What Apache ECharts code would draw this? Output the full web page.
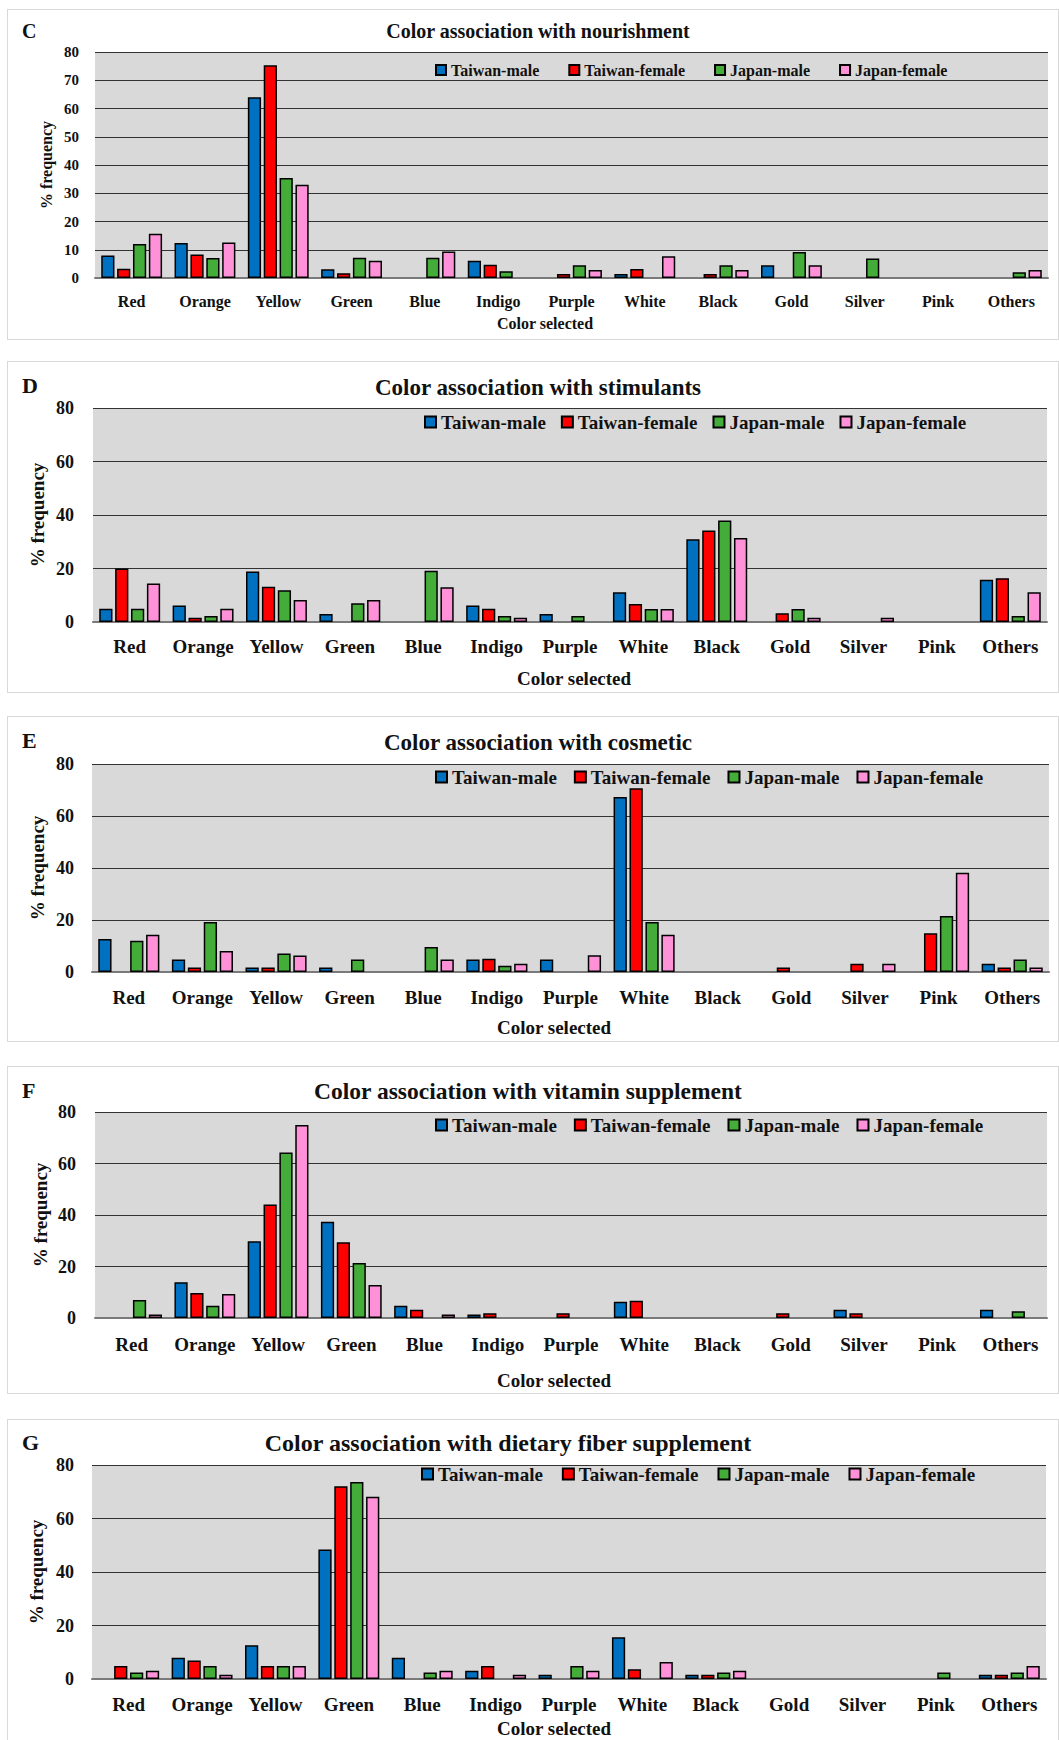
<!DOCTYPE html>
<html>
<head>
<meta charset="utf-8">
<script src="https://cdn.jsdelivr.net/npm/echarts@6/dist/echarts.min.js"></script>
<style>
body { margin: 0; background: #fff; width: 1059px; height: 1740px; position: relative; overflow: hidden; }
.frame { position: absolute; left: 7px; width: 1052px; border: 1.5px solid #d9d9d9; box-sizing: border-box; }
.chart { position: absolute; left: 0; width: 1059px; }
</style>
</head>
<body>
<div class="frame" style="top:9px;height:331px"></div>
<div class="frame" style="top:361px;height:332px"></div>
<div class="frame" style="top:716px;height:326px"></div>
<div class="frame" style="top:1066px;height:328px"></div>
<div class="frame" style="top:1419px;height:330px"></div>
<div class="chart" id="chartC" style="top:9px;height:331px"></div>
<div class="chart" id="chartD" style="top:361px;height:332px"></div>
<div class="chart" id="chartE" style="top:716px;height:326px"></div>
<div class="chart" id="chartF" style="top:1066px;height:328px"></div>
<div class="chart" id="chartG" style="top:1419px;height:321px"></div>
<script>
// categories and groups
const categories = ['Red', 'Orange', 'Yellow', 'Green', 'Blue', 'Indigo', 'Purple', 'White', 'Black', 'Gold', 'Silver', 'Pink', 'Others'];
const groups = ['Taiwan-male', 'Taiwan-female', 'Japan-male', 'Japan-female'];
const groupColors = ['#0070c0', '#ff0000', '#44ad3a', '#ff91d9'];

// % frequency, one row per group (Taiwan-male, Taiwan-female, Japan-male, Japan-female)
const nourishment = [
  [8, 12.4, 64, 3.1, 0, 6.1, 0, 1.4, 0, 4.5, 0, 0, 0],
  [3.3, 8.3, 75.3, 1.7, 0, 4.7, 1.4, 3.2, 1.4, 0, 0, 0, 0],
  [12, 7.1, 35.4, 7.2, 7.2, 2.4, 4.5, 0, 4.5, 9.2, 6.9, 0, 2],
  [15.7, 12.6, 33, 6.1, 9.4, 0, 2.8, 7.7, 2.8, 4.5, 0, 0, 2.8]
];
const stimulants = [
  [5, 6.2, 18.9, 3, 0, 6.2, 3, 11.1, 30.9, 0, 0, 0, 15.8],
  [20, 1.6, 13.2, 0, 0, 5, 0, 6.7, 34.2, 3.3, 0, 0, 16.4],
  [5, 2.2, 11.9, 7, 19.2, 2.2, 2.2, 4.9, 37.9, 4.9, 0, 0, 2.2],
  [14.4, 5, 8.2, 8.2, 13, 1.6, 0, 4.9, 31.4, 1.6, 1.6, 0, 11.1]
];
const cosmetic = [
  [12.7, 4.8, 1.7, 1.7, 0, 4.8, 4.8, 67.3, 0, 0, 0, 0, 3.2],
  [0, 1.7, 1.7, 0, 0, 5.1, 0, 70.7, 0, 1.7, 3.2, 14.9, 1.7],
  [12, 19.2, 7.1, 4.8, 9.6, 2.4, 0, 19.2, 0, 0, 0, 21.5, 4.8],
  [14.3, 8.1, 6.3, 0, 4.8, 3.2, 6.4, 14.3, 0, 0, 3.2, 38.2, 1.7]
];
const vitamin = [
  [0, 13.9, 29.8, 37.4, 4.8, 1.4, 0, 6.3, 0, 0, 3.2, 0, 3.2],
  [0, 9.7, 44.1, 29.4, 3.2, 1.8, 1.8, 6.7, 0, 1.8, 1.8, 0, 0],
  [7, 4.8, 64.3, 21.4, 0, 0, 0, 0, 0, 0, 0, 0, 2.6],
  [1.4, 9.3, 75, 12.8, 1.4, 0, 0, 0, 0, 0, 0, 0, 0]
];
const dietaryFiber = [
  [0, 7.9, 12.6, 48.4, 7.9, 3.1, 1.6, 15.6, 1.6, 0, 0, 0, 1.6],
  [4.9, 6.9, 4.9, 72.1, 0, 4.9, 0, 3.6, 1.6, 0, 0, 0, 1.6],
  [2.4, 4.9, 4.9, 73.6, 2.4, 0, 4.9, 0, 2.4, 0, 0, 2.4, 2.4],
  [3.1, 1.6, 4.9, 68.1, 3.1, 1.6, 3.1, 6.4, 3.1, 0, 0, 0, 4.9]
];

const FONT = '"Liberation Serif", "DejaVu Serif", serif';

// layout of each panel (pixels inside its chart div)
const panels = [
  { id: 'chartC', letter: 'C', title: 'Color association with nourishment', data: nourishment, step: 10,
    grid: { left: 95, right: 11, top: 43, bottom: 62 }, titleX: 538, titleY: 22, letterY: 22,
    legendLeft: 435, legendY: 62, itemGap: 29, icon: 10, yNameX: 46, xNameX: 545, xNameY: 314,
    fTitle: 20, fTick: 15, fCat: 16, fLegend: 16, fName: 16, fLetter: 20, catMargin: 15, tickMargin: 16 },
  { id: 'chartD', letter: 'D', title: 'Color association with stimulants', data: stimulants, step: 20,
    grid: { left: 93, right: 12, top: 47, bottom: 71 }, titleX: 538, titleY: 26, letterY: 24,
    legendLeft: 424, legendY: 62, itemGap: 15, icon: 11, yNameX: 37, xNameX: 574, xNameY: 317,
    fTitle: 23, fTick: 18, fCat: 19, fLegend: 19, fName: 19, fLetter: 22, catMargin: 15, tickMargin: 19 },
  { id: 'chartE', letter: 'E', title: 'Color association with cosmetic', data: cosmetic, step: 20,
    grid: { left: 92, right: 10, top: 48, bottom: 70 }, titleX: 538, titleY: 26, letterY: 24,
    legendLeft: 435, legendY: 62, itemGap: 17, icon: 11, yNameX: 37, xNameX: 554, xNameY: 311,
    fTitle: 23, fTick: 18, fCat: 19, fLegend: 19, fName: 19, fLetter: 22, catMargin: 16, tickMargin: 18 },
  { id: 'chartF', letter: 'F', title: 'Color association with vitamin supplement', data: vitamin, step: 20,
    grid: { left: 95, right: 12, top: 46, bottom: 76 }, titleX: 528, titleY: 25, letterY: 24,
    legendLeft: 435, legendY: 60, itemGap: 17, icon: 11, yNameX: 40, xNameX: 554, xNameY: 314,
    fTitle: 23.5, fTick: 18, fCat: 19, fLegend: 19, fName: 19, fLetter: 22, catMargin: 17, tickMargin: 19 },
  { id: 'chartG', letter: 'G', title: 'Color association with dietary fiber supplement', data: dietaryFiber, step: 20,
    grid: { left: 92, right: 13, top: 46, bottom: 61 }, titleX: 508, titleY: 24, letterY: 23,
    legendLeft: 421, legendY: 56, itemGap: 19, icon: 11, yNameX: 36, xNameX: 554, xNameY: 309,
    fTitle: 24, fTick: 18, fCat: 19, fLegend: 19, fName: 19, fLetter: 22, catMargin: 16, tickMargin: 18 }
];

function textEl(text, x, y, size, extra) {
  return Object.assign({
    type: 'text', x: x, y: y, silent: true,
    style: { text: text, fill: '#111', fontFamily: FONT, fontWeight: 'bold', fontSize: size,
             align: 'center', verticalAlign: 'middle' }
  }, extra || {});
}

panels.forEach(function (p) {
  const el = document.getElementById(p.id);
  const chart = echarts.init(el, null, { renderer: 'svg' });
  const plotMid = p.grid.top + (el.clientHeight - p.grid.top - p.grid.bottom) / 2;

  const series = groups.map(function (name, i) {
    return {
      name: name,
      type: 'bar',
      data: p.data[i].map(function (v) { return v === 0 ? null : v; }),
      barGap: '20%',
      barCategoryGap: '17%',
      itemStyle: { color: groupColors[i], borderColor: '#000', borderWidth: 1.5 },
      emphasis: { disabled: true }
    };
  });

  chart.setOption({
    animation: false,
    grid: Object.assign({ show: true, backgroundColor: '#d9d9d9', borderWidth: 0 }, p.grid),
    legend: {
      data: groups,
      left: p.legendLeft,
      top: p.legendY - p.fLegend / 2 - 1,
      padding: 0,
      icon: 'rect',
      itemWidth: p.icon,
      itemHeight: p.icon,
      itemGap: p.itemGap,
      textStyle: { fontFamily: FONT, fontWeight: 'bold', fontSize: p.fLegend, color: '#111' }
    },
    xAxis: {
      type: 'category',
      data: categories,
      axisLine: { lineStyle: { color: '#7a7a7a', width: 2 } },
      axisTick: { show: false },
      axisLabel: { interval: 0, margin: p.catMargin, fontFamily: FONT, fontWeight: 'bold',
                   fontSize: p.fCat, color: '#111' }
    },
    yAxis: {
      type: 'value',
      min: 0,
      max: 80,
      interval: p.step,
      axisLine: { show: false },
      axisTick: { show: false },
      splitLine: { lineStyle: { color: '#333', width: 1 } },
      axisLabel: { margin: p.tickMargin, fontFamily: FONT, fontWeight: 'bold',
                   fontSize: p.fTick, color: '#111' }
    },
    graphic: [
      textEl(p.title, p.titleX, p.titleY, p.fTitle),
      textEl(p.letter, 22, p.letterY, p.fLetter, { style: { text: p.letter, fill: '#111', fontFamily: FONT,
        fontWeight: 'bold', fontSize: p.fLetter, align: 'left', verticalAlign: 'middle' } }),
      textEl('% frequency', p.yNameX, plotMid, p.fName, { rotation: Math.PI / 2 }),
      textEl('Color selected', p.xNameX, p.xNameY, p.fName)
    ],
    series: series
  });
});
</script>
</body>
</html>
